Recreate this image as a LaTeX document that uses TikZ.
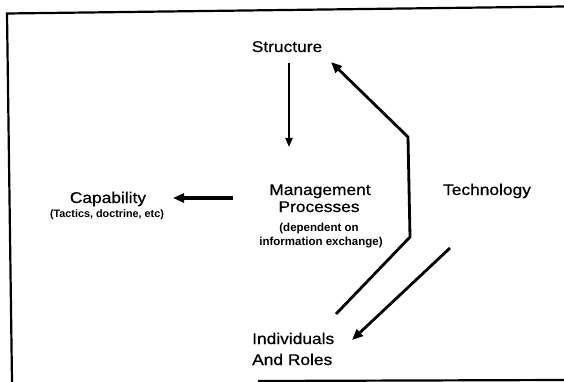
\documentclass[tikz,border=0pt]{standalone}
\usepackage{fontspec}
\setmainfont{Liberation Sans}[FakeStretch=1.12,FakeBold=0.7]
\newfontfamily\subfont{Liberation Sans}
\usetikzlibrary{arrows.meta}
\begin{document}
\begin{tikzpicture}[x=1pt,y=-1pt,
  lbl/.style={inner sep=0pt, anchor=base, font=\fontsize{15.5}{17}\selectfont},
  sublbl/.style={inner sep=0pt, anchor=base, font=\subfont\bfseries\fontsize{11.5}{13}\selectfont},
  arr/.style={line width=2.8pt, -{Triangle[length=11pt,width=9pt]}},
  thinarr/.style={line width=2pt, -{Triangle[length=9pt,width=7pt]}},
  framel/.style={line width=2.2pt}]
\useasboundingbox (0,0) rectangle (564,382);
% frame
\coordinate (f1) at (7,13.5);
\coordinate (f2) at (564,6.5);
\coordinate (f3) at (12,382);
\coordinate (f4) at (258,381);
\coordinate (f5) at (564,380);
\draw[framel] (f2) -- (f1) -- (f3);
\draw[framel] (f4) -- (f5);
% texts
\node[lbl] (st) at (287,52) {Structure};
\node[lbl] (cap) at (108,203) {Capability};
\node[sublbl, font=\subfont\bfseries\fontsize{10.8}{13}\selectfont] (capsub) at (107,217) {(Tactics, doctrine, etc)};
\node[lbl] (mg1) at (320,195) {Management};
\node[lbl] (mg2) at (319,212) {Processes};
\node[sublbl] (mg3) at (319,231) {(dependent on};
\node[sublbl] (mg4) at (321,245) {information exchange)};
\node[lbl] (tech) at (487,195) {Technology};
\node[lbl, anchor=base west] (ind1) at (252,344) {Individuals};
\node[lbl, anchor=base west] (ind2) at (252,365) {And Roles};
% arrows
\coordinate (a1s) at (289,63);
\coordinate (a1e) at (289,147);
\draw[thinarr] (a1s) -- (a1e);
\coordinate (a2s) at (233,198);
\coordinate (a2e) at (173,198);
\draw[arr, line width=3.8pt] (a2s) -- (a2e);
\coordinate (a3s) at (336,314);
\coordinate (a3b) at (410,237);
\coordinate (a3c) at (408,137);
\coordinate (a3e) at (331,62);
\draw[arr, line join=miter] (a3s) -- (a3b) -- (a3c) -- (a3e);
\coordinate (a4s) at (450,248);
\coordinate (a4e) at (352,340);
\draw[arr] (a4s) -- (a4e);
\end{tikzpicture}
\end{document}
